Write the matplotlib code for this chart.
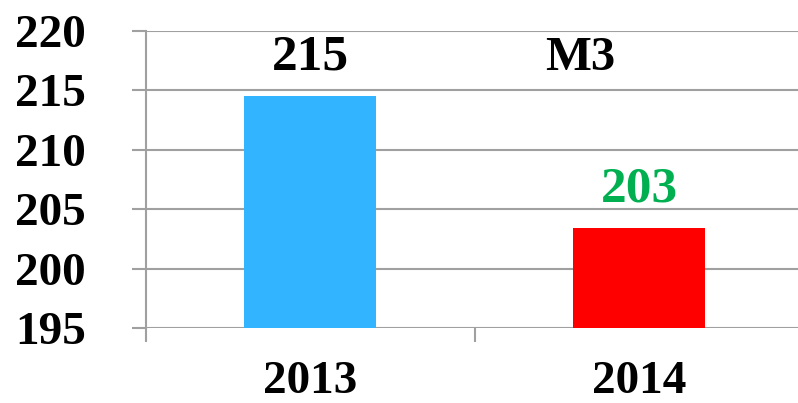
import matplotlib.pyplot as plt

years = ["2013", "2014"]
volumes = [214.5, 203.4]
labels = ["215", "203"]
bar_colors = ["#33B4FF", "#FF0000"]
label_colors = ["#000000", "#00B050"]
unit = "М3"
yticks = [195, 200, 205, 210, 215, 220]

plt.rcParams["font.family"] = ["Liberation Serif", "DejaVu Serif"]
plt.rcParams["font.weight"] = "bold"

fig = plt.figure(figsize=(7.98, 4.03), dpi=100)
W, H = 798, 403
ax = fig.add_axes([145.5 / W, (H - 328) / H, 658 / W, 297 / H])

x = list(range(len(years)))
ax.bar(x, [v - yticks[0] for v in volumes], bottom=yticks[0], width=0.4,
       color=bar_colors, zorder=3)

for xi, v, lab, c in zip(x, volumes, labels, label_colors):
    ax.annotate(lab, (xi, v), xytext=(0, 19), textcoords="offset points",
                ha="center", va="baseline", fontsize=37, fontweight="bold", color=c)

ax.text(0.82, 216.7, unit, ha="center", va="baseline", fontsize=35, fontweight="bold")

grid_c = "#A0A0A0"
ax.set_xlim(-0.5, 1.5)
ax.set_ylim(195, 220)
ax.set_yticks(yticks)
ax.set_yticklabels([str(t) for t in yticks])
ax.set_xticks(x)
ax.set_xticklabels(years)
ax.set_xticks([-0.5, 0.5, 1.5], minor=True)

ax.grid(axis="y", color=grid_c, linewidth=1.5, zorder=0)
for s in ["top", "right", "bottom"]:
    ax.spines[s].set_visible(False)
ax.spines["left"].set_color(grid_c)
ax.spines["left"].set_linewidth(1.5)

ax.tick_params(axis="y", length=10, width=1.5, color=grid_c, pad=33, labelsize=34)
ax.tick_params(axis="x", which="major", length=0, pad=24, labelsize=34)
ax.tick_params(axis="x", which="minor", length=10, width=1.5, color=grid_c)
for t in ax.get_xticklabels() + ax.get_yticklabels():
    t.set_fontweight("bold")

fig.savefig("out.png", dpi=100)
